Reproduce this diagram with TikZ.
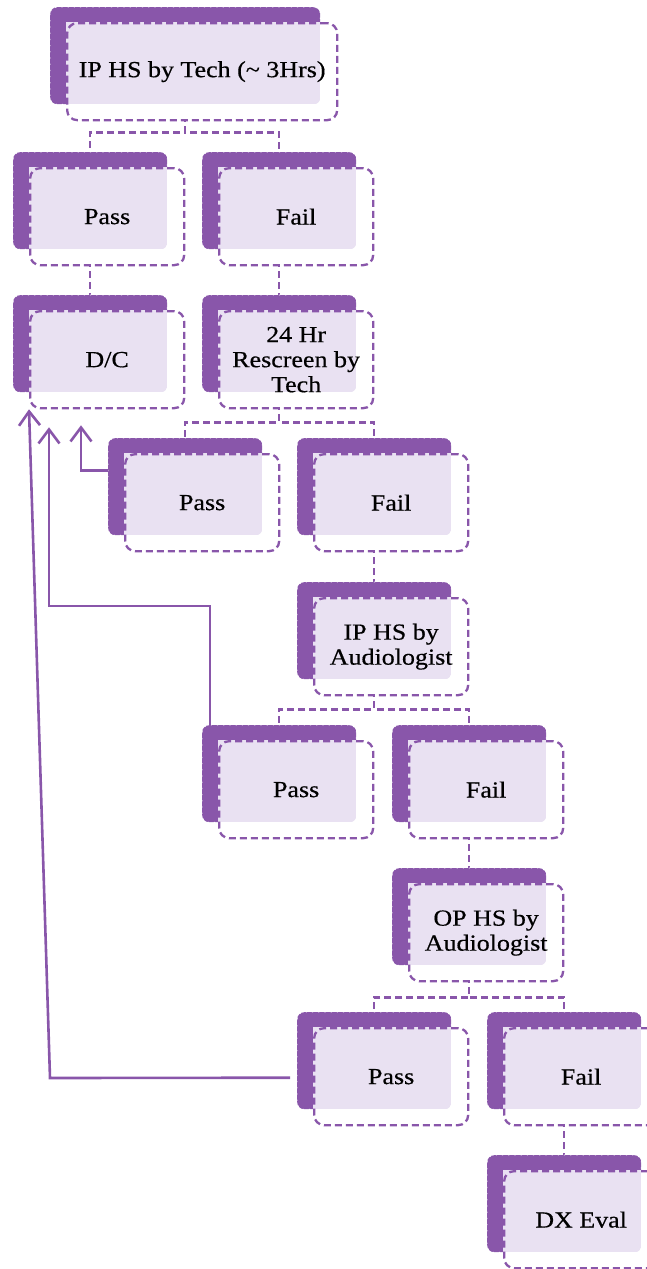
\documentclass[tikz,border=0pt]{standalone}
\usepackage{fontspec}
\setmainfont{Liberation Serif}[FakeStretch=1.13,FakeBold=0.5]
\usetikzlibrary{arrows.meta,calc}
\definecolor{vio}{RGB}{137,86,170}
\definecolor{lav}{RGB}{233,225,242}

\tikzset{
  backbox/.style={rectangle, rounded corners=7pt, fill=vio, minimum height=97pt, inner sep=0pt},
  backedge/.style={draw=white, line width=0.9pt, dash pattern=on 1.2pt off 5pt},
  frontbox/.style={rectangle, rounded corners=10pt, draw=vio, line width=2.3pt,
    dash pattern=on 7pt off 4pt, minimum height=97pt, inner sep=0pt,
    align=center, font=\fontsize{23}{25}\selectfont, text=black},
  conn/.style={draw=vio, line width=2.3pt, dash pattern=on 7pt off 4pt},
  fb/.style={draw=vio, line width=2.6pt,
    -{Straight Barb[length=14pt,width=21pt,line width=2.6pt]}},
}

\newcommand\hsbox[5]{%
  \node[backbox, minimum width=#4, anchor=north west] (#1b) at (#2,#3) {};
  \draw[backedge, rounded corners=7pt] (#1b.north west) rectangle (#1b.south east);
  \fill[white, rounded corners=10pt] ($(#1b.north west)+(16pt,-15pt)$) rectangle ++(#4,-97pt);
  \begin{scope}
    \clip[rounded corners=7pt] (#1b.north west) rectangle (#1b.south east);
    \fill[lav] ($(#1b.north west)+(16pt,-15pt)$) rectangle (#1b.south east);
  \end{scope}
  \node[frontbox, minimum width=#4, anchor=north west] (#1) at ($(#1b.north west)+(16pt,-15pt)$) {#5};
}

\begin{document}
\begin{tikzpicture}[x=1pt,y=-1pt]
\useasboundingbox (0,0) rectangle (647,1269);
\clip (0,0) rectangle (647,1269);

% back-box placeholders for connectors (drawn first, then boxes over them)
\begin{scope}
\node[backbox, minimum width=270pt, anchor=north west, fill=none] (n1b) at (50,7) {};
\node[backbox, minimum width=154pt, anchor=north west, fill=none] (p2b) at (13,152) {};
\node[backbox, minimum width=154pt, anchor=north west, fill=none] (f2b) at (202,152) {};
\node[backbox, minimum width=154pt, anchor=north west, fill=none] (dcb) at (13,295) {};
\node[backbox, minimum width=154pt, anchor=north west, fill=none] (r3b) at (202,295) {};
\node[backbox, minimum width=154pt, anchor=north west, fill=none] (p4b) at (108,438) {};
\node[backbox, minimum width=154pt, anchor=north west, fill=none] (f4b) at (297,438) {};
\node[backbox, minimum width=154pt, anchor=north west, fill=none] (a5b) at (297,582) {};
\node[backbox, minimum width=154pt, anchor=north west, fill=none] (p6b) at (202,725) {};
\node[backbox, minimum width=154pt, anchor=north west, fill=none] (f6b) at (392,725) {};
\node[backbox, minimum width=154pt, anchor=north west, fill=none] (o7b) at (392,868) {};
\node[backbox, minimum width=154pt, anchor=north west, fill=none] (p8b) at (297,1012) {};
\node[backbox, minimum width=154pt, anchor=north west, fill=none] (f8b) at (487,1012) {};
\node[backbox, minimum width=154pt, anchor=north west, fill=none] (dxb) at (487,1155) {};
\end{scope}

% dashed connectors
\draw[conn] (n1b.south) -- ++(0,28) -| (p2b.north);
\draw[conn] (n1b.south) -- ++(0,28) -| (f2b.north);
\draw[conn] (p2b.south) -- (dcb.north);
\draw[conn] (f2b.south) -- (r3b.north);
\draw[conn] (r3b.south) -- ++(0,30) -| (p4b.north);
\draw[conn] (r3b.south) -- ++(0,30) -| (f4b.north);
\draw[conn] (f4b.south) -- (a5b.north);
\draw[conn] (a5b.south) -- ++(0,30) -| (p6b.north);
\draw[conn] (a5b.south) -- ++(0,30) -| (f6b.north);
\draw[conn] (f6b.south) -- (o7b.north);
\draw[conn] (o7b.south) -- ++(0,32) -| (p8b.north);
\draw[conn] (o7b.south) -- ++(0,32) -| (f8b.north);
\draw[conn] (f8b.south) -- (dxb.north);

% boxes
\hsbox{n1}{50}{7}{270pt}{IP HS by Tech (\textasciitilde{} 3Hrs)}
\hsbox{p2}{13}{152}{154pt}{Pass}
\hsbox{f2}{202}{152}{154pt}{Fail}
\hsbox{dc}{13}{295}{154pt}{D/C}
\hsbox{r3}{202}{295}{154pt}{24 Hr\\Rescreen by\\Tech}
\hsbox{p4}{108}{438}{154pt}{Pass}
\hsbox{f4}{297}{438}{154pt}{Fail}
\hsbox{a5}{297}{582}{154pt}{IP HS by\\Audiologist}
\hsbox{p6}{202}{725}{154pt}{Pass}
\hsbox{f6}{392}{725}{154pt}{Fail}
\hsbox{o7}{392}{868}{154pt}{OP HS by\\Audiologist}
\hsbox{p8}{297}{1012}{154pt}{Pass}
\hsbox{f8}{487}{1012}{154pt}{Fail}
\hsbox{dx}{487}{1155}{154pt}{DX Eval}

% feedback arrows to D/C
\draw[fb] ([yshift=16pt]p4b.west) -| ([xshift=52pt,yshift=-16pt]dc.south west);
\draw[fb] ([xshift=8pt]p6b.north west) -- ++(0,-119) -| ([xshift=20pt,yshift=-18pt]dc.south west);
\coordinate (c3) at (50,1078);
\draw[fb] ([xshift=-7pt,yshift=-17pt]p8b.west) -- (c3) -- (dc.south west);
\end{tikzpicture}
\end{document}
